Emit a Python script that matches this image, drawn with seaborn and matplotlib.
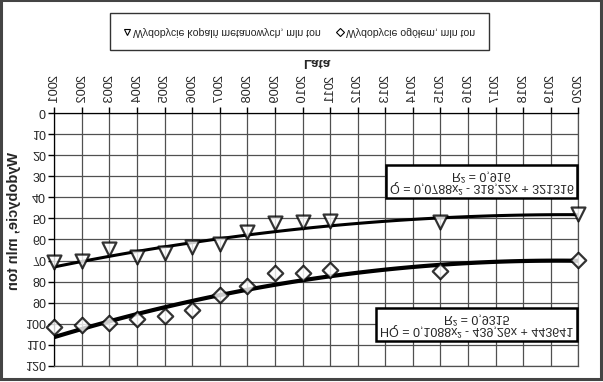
import io
import numpy as np
import pandas as pd
import matplotlib
matplotlib.use('Agg')
import matplotlib.pyplot as plt
from matplotlib.lines import Line2D
import seaborn as sns

# data
lata = [2001, 2002, 2003, 2004, 2005, 2006, 2007, 2008, 2009, 2010, 2011, 2015, 2020]
metanowe = [70.5, 70.3, 64.3, 68.2, 66.3, 63.5, 61.9, 56.4, 52.4, 51.6, 51.3, 51.6, 47.7]
ogolem = [101.7, 100.6, 99.4, 97.9, 96.4, 93.5, 86.1, 82.1, 76.1, 75.8, 74.5, 75.0, 69.5]
rok_ticks = list(range(2001, 2021))

lab_met = 'Wydobycie kopalń metanowych, mln ton'
lab_og = 'Wydobycie ogółem, mln ton'
eq_met = 'Q = 0,0788x² - 318,22x + 321316\nR² = 0,916'
eq_og = 'HQ = 0,1088x² - 439,26x + 443641\nR² = 0,9315'

df = pd.DataFrame({'rok': lata, 'met': metanowe, 'og': ogolem})

sns.set_style('white')
plt.rcParams['font.family'] = ['Liberation Sans', 'DejaVu Sans']

W, H = 603, 382
fig = plt.figure(figsize=(W / 100, H / 100), dpi=100)
ax = fig.add_axes([54.3 / W, 1 - 268 / H, 524 / W, 253 / H])

sns.regplot(x='rok', y='met', data=df, order=2, ci=None, ax=ax, marker='^',
            scatter_kws={'s': 100, 'facecolors': 'white', 'edgecolors': 'black',
                         'linewidths': 1.6, 'zorder': 4, 'clip_on': False},
            line_kws={'color': 'black', 'lw': 2.2, 'zorder': 3})
sns.regplot(x='rok', y='og', data=df, order=2, ci=None, ax=ax, marker='D',
            scatter_kws={'s': 62, 'facecolors': 'white', 'edgecolors': 'black',
                         'linewidths': 1.6, 'zorder': 4, 'clip_on': False},
            line_kws={'color': 'black', 'lw': 3.0, 'zorder': 3})

ax.set_xlim(2001, 2020)
ax.set_ylim(0, 120)
ax.set_xticks(rok_ticks)
ax.set_xticklabels([str(r) for r in rok_ticks], rotation=90, fontsize=9.2)
ax.set_yticks(range(0, 121, 10))
ax.tick_params(axis='y', labelsize=9)
ax.tick_params(direction='out', length=4, width=1, color='black', pad=2, bottom=True, left=True)
ax.grid(True, color='#505050', lw=0.9)
ax.set_axisbelow(True)
for s in ax.spines.values():
    s.set_color('#505050')
    s.set_linewidth(0.9)
ax.spines['left'].set_color('black')
ax.spines['bottom'].set_color('black')

ax.set_xlabel('Lata', fontsize=9.5, fontweight='bold')
ax.set_ylabel('Wydobycie, mln ton', fontsize=10.5, fontweight='bold')
ax.xaxis.set_label_coords(0.5, -(313 - 268) / 253)
ax.yaxis.set_label_coords(-(54.3 - 21) / 524, 0.43)

handles = [Line2D([], [], marker='^', ls='none', mfc='white', mec='black', ms=5, mew=0.8),
           Line2D([], [], marker='D', ls='none', mfc='white', mec='black', ms=4, mew=0.8)]
leg = fig.legend(handles, [lab_met, lab_og], ncol=2, loc='center',
                 bbox_to_anchor=(299.5 / W, 1 - 349.5 / H), fontsize=7.6,
                 frameon=True, fancybox=False, handlelength=0.6, handletextpad=0.2,
                 columnspacing=1.6, borderpad=1.3, borderaxespad=0)
leg.get_frame().set_edgecolor('black')
leg.get_frame().set_linewidth(1.0)

box = dict(boxstyle='square,pad=0.3', facecolor='white', edgecolor='black', lw=1.8)
fig.text(481.5 / W, 1 - 199.5 / H, eq_met, ha='center', va='center', linespacing=1.05,
         multialignment='center', fontsize=9, bbox=box, zorder=10)
fig.text(476.5 / W, 1 - 56.5 / H, eq_og, ha='center', va='center', linespacing=1.05,
         multialignment='center', fontsize=9, bbox=box, zorder=10)

fig.patches.append(plt.Rectangle((0.002, 0.003), 0.995, 0.993, transform=fig.transFigure,
                                 fill=False, edgecolor='#444444', lw=2.2))

# the reference picture is mirrored top-to-bottom
buf = io.BytesIO()
fig.savefig(buf, format='png', dpi=100)
buf.seek(0)
img = plt.imread(buf)
plt.imsave('out.png', np.flipud(img))
